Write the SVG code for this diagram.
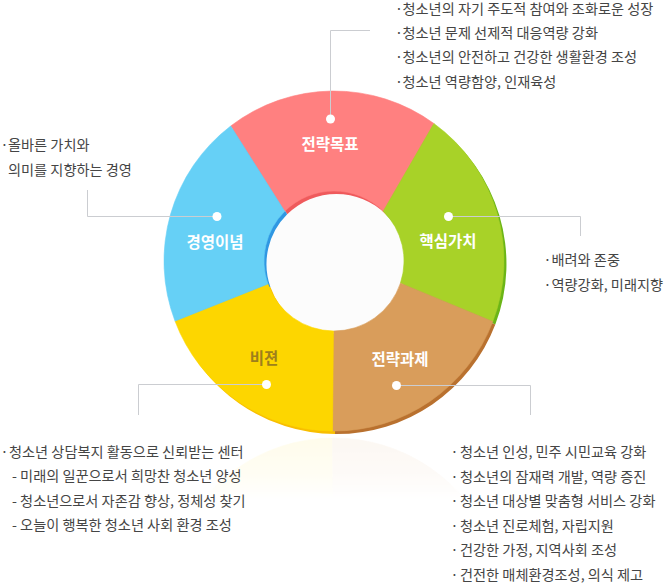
<svg xmlns="http://www.w3.org/2000/svg" xmlns:xlink="http://www.w3.org/1999/xlink" width="665" height="583" viewBox="0 0 665 583">
<style>
.txt{font-family:"Noto Sans CJK KR","Noto Sans",sans-serif;font-size:14.2px;fill:#454545}
.lbl{font-family:"Noto Sans CJK KR","Noto Sans",sans-serif;font-size:15.5px;font-weight:bold;fill:#ffffff;text-anchor:middle}
.conn{fill:none;stroke:#cbcdd1;stroke-width:1}
.dot{fill:#ffffff}
.red{fill:#ff8080;stroke:#ff8080;stroke-width:0.6}
.green{fill:#a8d228;stroke:#a8d228;stroke-width:0.6}
.brown{fill:#d99d5b;stroke:#d99d5b;stroke-width:0.6}
.yellow{fill:#fdd600;stroke:#fdd600;stroke-width:0.6}
.blue{fill:#66d0f6;stroke:#66d0f6;stroke-width:0.6}
</style>
<defs>
<path id="p-red" d="M230.7,126 A170,170 0 0 1 433.9,123.5 L383.2,211.2 A70,70 0 0 0 284.7,211.3 Z"/>
<path id="p-green" d="M433.9,123.5 A170,170 0 0 1 492.8,321.6 L400.4,283.2 A70,70 0 0 0 383.2,211.2 Z"/>
<path id="p-brown" d="M492.8,321.6 A170,170 0 0 1 332.5,431 L333.4,331 A70,70 0 0 0 400.4,283.2 Z"/>
<path id="p-yellow" d="M332.5,431 A170,170 0 0 1 175,321.1 L267.9,284 A70,70 0 0 0 333.4,331 Z"/>
<path id="p-blue" d="M175,321.1 A170,170 0 0 1 230.7,126 L284.7,211.3 A70,70 0 0 0 267.9,284 Z"/>
<linearGradient id="fadeGrad" gradientUnits="userSpaceOnUse" x1="0" y1="436" x2="0" y2="500">
<stop offset="0" stop-color="#fff" stop-opacity="0.08"/>
<stop offset="0.6" stop-color="#fff" stop-opacity="0.045"/>
<stop offset="1" stop-color="#fff" stop-opacity="0"/>
</linearGradient>
<mask id="fade" maskUnits="userSpaceOnUse" x="0" y="430" width="665" height="100">
<rect x="0" y="430" width="665" height="100" fill="url(#fadeGrad)"/>
</mask>
</defs>

<g id="reflection" mask="url(#fade)">
<g transform="translate(0,869) scale(1,-1)">
<use xlink:href="#p-yellow" class="yellow"/>
<use xlink:href="#p-brown" class="brown"/>
<use xlink:href="#p-green" class="green"/>
<use xlink:href="#p-blue" class="blue"/>
</g>
</g>

<circle cx="334" cy="261" r="71" fill="#fcfcfc"/>

<g id="wheel-shadow" transform="translate(2.5,3)">
<use xlink:href="#p-red" fill="#ef5a5c"/>
<use xlink:href="#p-green" fill="#6bb516"/>
<use xlink:href="#p-brown" fill="#b9712f"/>
<use xlink:href="#p-yellow" fill="#f8be00"/>
<use xlink:href="#p-blue" fill="#2f97e2"/>
</g>

<g id="node-goal">
<use xlink:href="#p-red" class="red"/>
<text class="lbl" x="330" y="149.5">전략목표</text>
</g>
<g id="node-value">
<use xlink:href="#p-green" class="green"/>
<text class="lbl" x="448" y="246.5">핵심가치</text>
</g>
<g id="node-task">
<use xlink:href="#p-brown" class="brown"/>
<text class="lbl" x="400" y="365">전략과제</text>
</g>
<g id="node-vision">
<use xlink:href="#p-yellow" class="yellow"/>
<text class="lbl" x="264" y="363.5" style="fill:#9e7f1c">비젼</text>
</g>
<g id="node-philosophy">
<use xlink:href="#p-blue" class="blue"/>
<text class="lbl" x="215" y="247.5">경영이념</text>
</g>

<g id="connectors">
<polyline class="conn" points="330.5,119 330.5,30.5 370,30.5"/>
<polyline class="conn" points="217,216.5 87.5,216.5 87.5,190"/>
<polyline class="conn" points="448.5,216.5 580.5,216.5 580.5,236"/>
<polyline class="conn" points="266.5,384.5 138.5,384.5 138.5,415"/>
<polyline class="conn" points="396.5,385.5 530.5,385.5 530.5,415"/>
<circle class="dot" cx="330.5" cy="119" r="4.5"/>
<circle class="dot" cx="217" cy="216.5" r="4.5"/>
<circle class="dot" cx="448.5" cy="216.5" r="4.5"/>
<circle class="dot" cx="266.5" cy="384.5" r="4.5"/>
<circle class="dot" cx="396.5" cy="385.5" r="4.5"/>
</g>

<g id="text-goal">
<text class="txt" y="13.5"><tspan x="395">·</tspan><tspan x="402.5">청소년의 자기 주도적 참여와 조화로운 성장</tspan></text>
<text class="txt" y="37.5"><tspan x="395">·</tspan><tspan x="402.5">청소년 문제 선제적 대응역량 강화</tspan></text>
<text class="txt" y="62"><tspan x="395">·</tspan><tspan x="402.5">청소년의 안전하고 건강한 생활환경 조성</tspan></text>
<text class="txt" y="86.5"><tspan x="395">·</tspan><tspan x="402.5">청소년 역량함양, 인재육성</tspan></text>
</g>
<g id="text-philosophy">
<text class="txt" y="150"><tspan x="0.5">·</tspan><tspan x="8">올바른 가치와</tspan></text>
<text class="txt" x="8" y="174.5">의미를 지향하는 경영</text>
</g>
<g id="text-value">
<text class="txt" y="265"><tspan x="543.5">·</tspan><tspan x="551.5">배려와 존중</tspan></text>
<text class="txt" y="289.5"><tspan x="543.5">·</tspan><tspan x="551.5">역량강화, 미래지향</tspan></text>
</g>
<g id="text-vision">
<text class="txt" y="456.5"><tspan x="0.5">·</tspan><tspan x="9">청소년 상담복지 활동으로 신뢰받는 센터</tspan></text>
<text class="txt" x="12" y="481">- 미래의 일꾼으로서 희망찬 청소년 양성</text>
<text class="txt" x="12" y="505.5">- 청소년으로서 자존감 향상, 정체성 찾기</text>
<text class="txt" x="12" y="530">- 오늘이 행복한 청소년 사회 환경 조성</text>
</g>
<g id="text-task">
<text class="txt" y="457"><tspan x="450.5">·</tspan><tspan x="460">청소년 인성, 민주 시민교육 강화</tspan></text>
<text class="txt" y="481.5"><tspan x="450.5">·</tspan><tspan x="460">청소년의 잠재력 개발, 역량 증진</tspan></text>
<text class="txt" y="506"><tspan x="450.5">·</tspan><tspan x="460">청소년 대상별 맞춤형 서비스 강화</tspan></text>
<text class="txt" y="530.5"><tspan x="450.5">·</tspan><tspan x="460">청소년 진로체험, 자립지원</tspan></text>
<text class="txt" y="555"><tspan x="450.5">·</tspan><tspan x="460">건강한 가정, 지역사회 조성</tspan></text>
<text class="txt" y="579.5"><tspan x="450.5">·</tspan><tspan x="460">건전한 매체환경조성, 의식 제고</tspan></text>
</g>
</svg>
